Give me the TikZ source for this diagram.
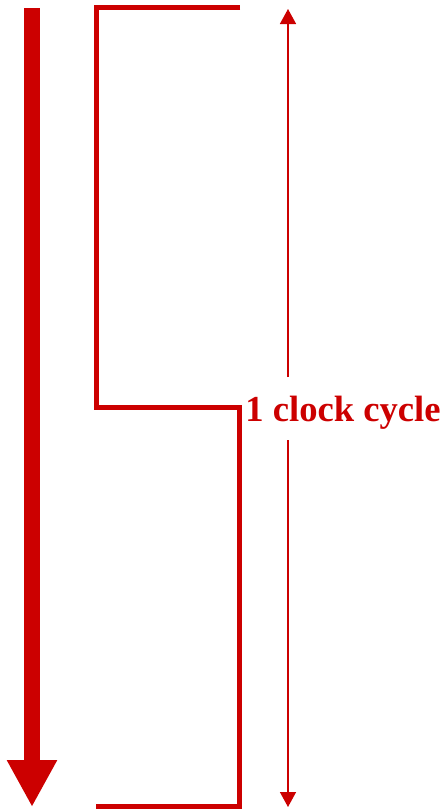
\documentclass[tikz,border=0pt]{standalone}
\usepackage{fontspec}
\setmainfont{Liberation Serif}
\usepackage{tikz}
\usetikzlibrary{arrows.meta,positioning}
\usepackage{xcolor}
\definecolor{clkred}{HTML}{CC0000}

\begin{document}
\begin{tikzpicture}[x=1pt,y=-1pt,
    wave/.style={draw=clkred,line width=5pt,line join=miter},
    dimline/.style={draw=clkred,line width=1.5pt},
    every node/.style={text=clkred,font=\fontsize{36.6}{40}\selectfont\bfseries}]
  \useasboundingbox (0,0) rectangle (444,809);

  % time axis
  \draw[clkred,line width=16pt,-{Triangle[length=47pt,width=47pt]}] (32,8) -- (32,807);

  % one clock period
  \draw[wave] (240,7.5) -- (96,7.5) -- (96,407.5) -- (239.5,407.5) -- (239.5,806.5) -- (96,806.5);

  % period marker
  \node[inner sep=0pt] (cyc) at (343,413) {1 clock cycle};
  \coordinate (ctop) at (288,9);
  \coordinate (cbot) at (288,807);
  \coordinate (cgapa) at (288,377);
  \coordinate (cgapb) at (288,440);
  \draw[dimline,-{Triangle[length=15pt,width=16pt]}] (cgapa) -- (ctop);
  \draw[dimline,-{Triangle[length=15pt,width=16pt]}] (cgapb) -- (cbot);
\end{tikzpicture}
\end{document}
